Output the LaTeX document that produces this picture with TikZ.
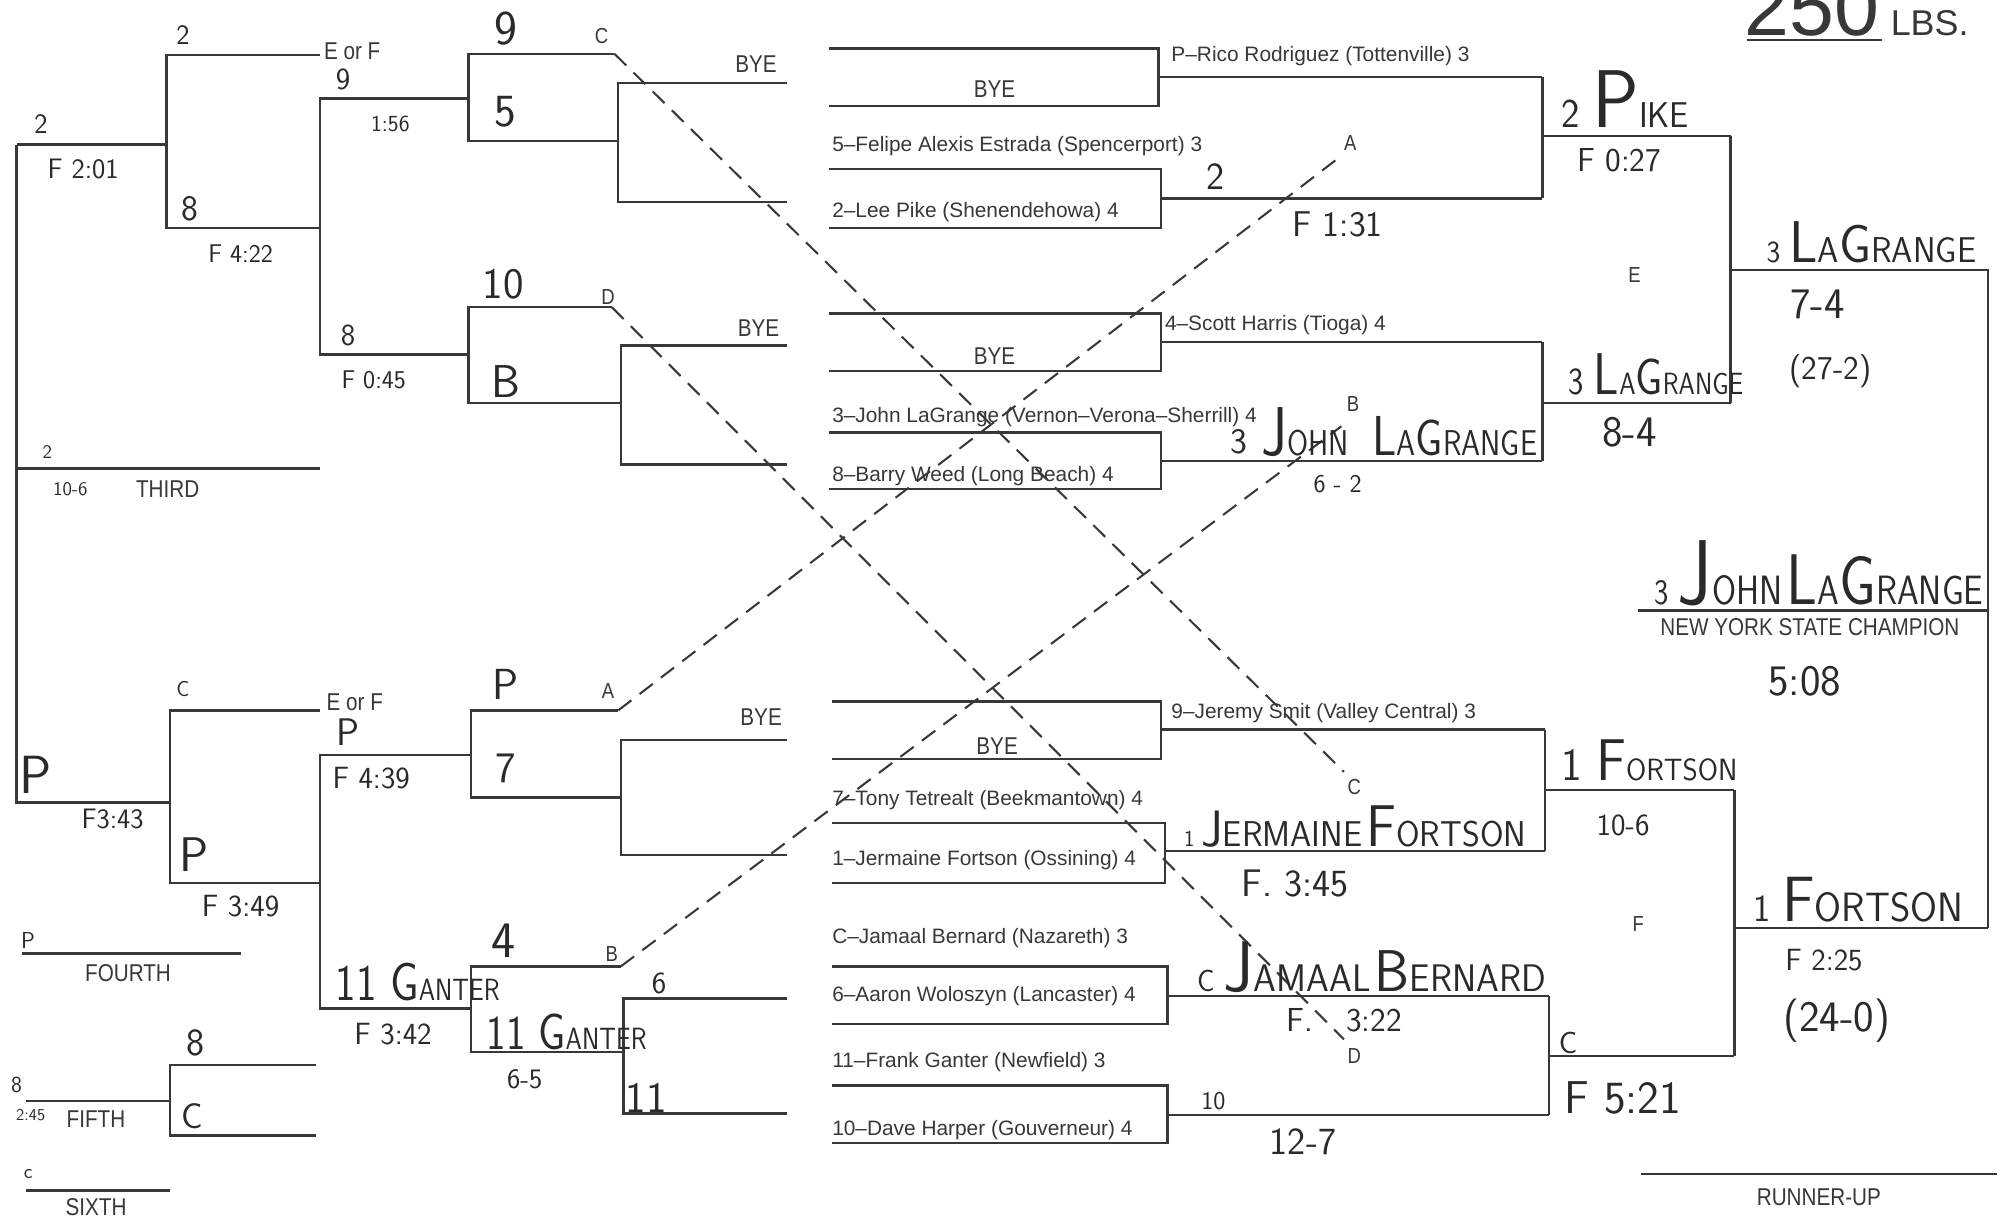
\documentclass[tikz,border=0pt]{standalone}
\usepackage{fontspec}
\newfontfamily\pn{Liberation Sans}[Ligatures=TeX]
\newfontfamily\pc{Liberation Sans}[Ligatures=TeX,FakeStretch=0.85]
\definecolor{ink}{HTML}{383838}
\definecolor{hand}{HTML}{2A2A2A}
\newcommand\hc[4]{{\fontsize{#1}{#1}\selectfont #3}{\fontsize{#2}{#2}\selectfont #4}}
\newcommand\hs[2]{{\fontsize{#1}{#1}\selectfont #2}}
\newcommand\sq[1]{\scalebox{0.85}[1]{#1}}
\newcommand\sqw[1]{\scalebox{0.95}[1]{#1}}
\tikzset{
 ln/.style={draw=ink, line width=1.8pt},
 dsh/.style={draw=ink, line width=1.6pt, dash pattern=on 13pt off 8pt},
 nm/.style={font=\pn\fontsize{16.3}{16.3}\selectfont, text=ink, anchor=west, inner sep=0pt},
 lb/.style={font=\pc\fontsize{19}{19}\selectfont, text=ink, inner sep=0pt},
 lt/.style={font=\pc\fontsize{17}{17}\selectfont, text=ink, inner sep=0pt},
 hw/.style={font=\sffamily\fontsize{#1}{#1}\selectfont, text=hand, inner sep=0pt},
 hw/.default=22,
 hn/.style={font=\sffamily, text=hand, inner sep=0pt, anchor=base west},
}
\begin{document}
\begin{tikzpicture}[x=1pt,y=-1pt]
\clip (0,0) rectangle (1568,953);
\fill[white] (0,0) rectangle (1568,953);
% ---------- title
\node[font=\pn\fontsize{63}{63}\selectfont, text=ink, anchor=base west, inner sep=0pt] (t250) at (1363,28) {250};
\draw[ink, line width=1.5pt] (1365,31) -- (1470,31);
\node[font=\pn\fontsize{28}{28}\selectfont, text=ink, anchor=base west, inner sep=0pt] (tlbs) at (1477,28) {LBS.};
% ---------- upper-left consolation
\draw[ln] (250,43) -- (130,43) -- (130,178) -- (250,178);
\draw[ln] (13,113) -- (130,113);
\draw[ln] (366,77) -- (250,77) -- (250,277) -- (366,277);
\draw[ln] (480,42) -- (366,42) -- (366,110) -- (483,110);
\draw[ln] (615,65) -- (483,65) -- (483,158) -- (615,158);
\draw[ln] (478,240) -- (366,240) -- (366,315) -- (485,315);
\draw[ln] (615,270) -- (485,270) -- (485,363) -- (615,363);
\draw[ln] (13,366) -- (250,366);
\draw[ln] (13,113) -- (13,627) -- (133,627);
% ---------- lower-left consolation
\draw[ln] (250,555) -- (133,555) -- (133,690) -- (250,690);
\draw[ln] (368,590) -- (250,590) -- (250,788) -- (368,788);
\draw[ln] (483,555) -- (368,555) -- (368,623) -- (485,623);
\draw[ln] (615,578) -- (485,578) -- (485,668) -- (615,668);
\draw[ln] (485,755) -- (368,755) -- (368,822) -- (487,822);
\draw[ln] (615,780) -- (487,780) -- (487,870) -- (615,870);
\draw[ln] (17,745) -- (188,745);
\draw[ln] (247,832) -- (133,832) -- (133,887) -- (247,887);
\draw[ln] (20,860) -- (133,860);
\draw[ln] (20,930) -- (133,930);
% ---------- championship bracket, upper half
\draw[ln] (648,38) -- (905,38) -- (905,83) -- (648,83);
\draw[ln] (905,60) -- (1205,60);
\draw[ln] (648,132) -- (907,132) -- (907,178) -- (648,178);
\draw[ln] (907,155) -- (1205,155);
\draw[ln] (1205,60) -- (1205,155);
\draw[ln] (1205,106) -- (1352,106);
\draw[ln] (648,245) -- (907,245) -- (907,290) -- (648,290);
\draw[ln] (907,267) -- (1205,267);
\draw[ln] (648,338) -- (907,338) -- (907,382) -- (648,382);
\draw[ln] (907,360) -- (1205,360);
\draw[ln] (1205,267) -- (1205,360);
\draw[ln] (1205,315) -- (1352,315);
\draw[ln] (1352,106) -- (1352,315);
\draw[ln] (1352,211) -- (1553,211) -- (1553,725);
\draw[ln] (1280,477) -- (1553,477);
% ---------- championship bracket, lower half
\draw[ln] (650,548) -- (907,548) -- (907,593) -- (650,593);
\draw[ln] (907,570) -- (1207,570);
\draw[ln] (650,643) -- (910,643) -- (910,690) -- (650,690);
\draw[ln] (910,665) -- (1207,665);
\draw[ln] (1207,570) -- (1207,665);
\draw[ln] (1207,617) -- (1355,617);
\draw[ln] (650,755) -- (912,755) -- (912,800) -- (650,800);
\draw[ln] (912,778) -- (1210,778);
\draw[ln] (650,848) -- (912,848) -- (912,893) -- (650,893);
\draw[ln] (912,871) -- (1210,871);
\draw[ln] (1210,778) -- (1210,871);
\draw[ln] (1210,825) -- (1355,825);
\draw[ln] (1355,617) -- (1355,825);
\draw[ln] (1355,725) -- (1553,725);
\draw[ln] (1282,917) -- (1560,917);
% ---------- crossover letters (printed)
\node[lt] (lC1) at (470,28) {C};
\node[lt] (lD1) at (475,232) {D};
\node[lt] (lA1) at (475,540) {A};
\node[lt] (lB1) at (478,745) {B};
\node[lt] (lA2) at (1055,112) {A};
\node[lt] (lB2) at (1057,316) {B};
\node[lt] (lC2) at (1058,615) {C};
\node[lt] (lD2) at (1058,825) {D};
\node[lt] (lE) at (1277,215) {E};
\node[lt] (lF) at (1280,722) {F};
% ---------- dashed crossovers
\draw[dsh] (480,42) -- (1050,603);
\draw[dsh] (478,240) -- (1050,812);
\draw[dsh] (483,555) -- (1045,124);
\draw[dsh] (485,755) -- (1048,333);
% ---------- printed labels
\node[lb, anchor=west] (eof1) at (253,40) {E or F};
\node[lb, anchor=west] (eof2) at (255,549) {E or F};
\node[lb, anchor=east] (bye1) at (607,50) {BYE};
\node[lb, anchor=east] (bye2) at (609,256) {BYE};
\node[lb, anchor=east] (bye3) at (611,560) {BYE};
\node[lb] (bye4) at (777,70) {BYE};
\node[lb] (bye5) at (777,278) {BYE};
\node[lb] (bye6) at (779,583) {BYE};
\node[lb] (third) at (131,382) {THIRD};
\node[lb] (fourth) at (100,760) {FOURTH};
\node[lb] (fifth) at (75,874) {FIFTH};
\node[lb] (sixth) at (75,943) {SIXTH};
\node[lb] (champ) at (1414,490) {NEW YORK STATE CHAMPION};
\node[lb] (runner) at (1421,935) {RUNNER-UP};
% ---------- printed names
\node[nm] (w1) at (915,44) {P–Rico Rodriguez (Tottenville) 3};
\node[nm] (w2) at (650,114) {5–Felipe Alexis Estrada (Spencerport) 3};
\node[nm] (w3) at (650,166) {2–Lee Pike (Shenendehowa) 4};
\node[nm] (w4) at (910,254) {4–Scott Harris (Tioga) 4};
\node[nm] (w5) at (650,326) {3–John LaGrange (Vernon–Verona–Sherrill) 4};
\node[nm] (w6) at (650,372) {8–Barry Weed (Long Beach) 4};
\node[nm] (w7) at (915,557) {9–Jeremy Smit (Valley Central) 3};
\node[nm] (w8) at (650,625) {7–Tony Tetrealt (Beekmantown) 4};
\node[nm] (w9) at (650,672) {1–Jermaine Fortson (Ossining) 4};
\node[nm] (w10) at (650,733) {C–Jamaal Bernard (Nazareth) 3};
\node[nm] (w11) at (650,778) {6–Aaron Woloszyn (Lancaster) 4};
\node[nm] (w12) at (650,830) {11–Frank Ganter (Newfield) 3};
\node[nm] (w13) at (650,883) {10–Dave Harper (Gouverneur) 4};
% ---------- handwriting, left upper
\node[hw=22] (h1) at (143,27) {2};
\node[hw=28] (h2) at (148,163) {8};
\node[hw=20] (h3) at (188,198) {F 4:22};
\node[hw=22] (h4) at (32,97) {2};
\node[hw=22] (h5) at (65,132) {F 2:01};
\node[hw=24] (h6) at (268,62) {9};
\node[hw=18] (h7) at (305,97) {1:56};
\node[hw=24] (h8) at (272,262) {8};
\node[hw=20] (h9) at (292,297) {F 0:45};
\node[hw=38] (h10) at (395,22) {9};
\node[hw=36] (h11) at (395,87) {5};
\node[hw=34] (h12) at (393,222) {10};
\node[hw=36] (h13) at (395,298) {B};
\node[hw=15] (h14) at (37,353) {2};
\node[hw=15] (h15) at (55,382) {10-6};
% ---------- handwriting, left lower
\node[hw=42] (h16) at (28,605) {P};
\node[hw=22] (h17) at (88,640) {F3:43};
\node[hw=17] (h18) at (143,538) {C};
\node[hw=38] (h19) at (152,668) {P};
\node[hw=24] (h20) at (188,708) {F 3:49};
\node[hw=30] (h21) at (272,572) {P};
\node[hw=24] (h22) at (290,608) {F 4:39};
\node[hn] (h23) at (262,782) {\sq{\hs{40}{11 }\hc{42}{24}{G}{ANTER}}};
\node[hw=24] (h24) at (307,808) {F 3:42};
\node[hw=34] (h25) at (395,535) {P};
\node[hw=34] (h26) at (395,600) {7};
\node[hw=40] (h27) at (393,735) {4};
\node[hn] (h28) at (380,820) {\sq{\hs{38}{11 }\hc{40}{24}{G}{ANTER}}};
\node[hw=22] (h29) at (410,843) {6-5};
\node[hw=24] (h30) at (515,768) {6};
\node[hw=34] (h31) at (505,858) {11};
\node[hw=18] (h32) at (22,735) {P};
\node[hw=30] (h33) at (153,815) {8};
\node[hw=28] (h34) at (150,872) {C};
\node[hw=18] (h35) at (13,848) {8};
\node[hw=13] (h36) at (24,871) {2:45};
\node[hw=16] (h37) at (22,917) {c};
% ---------- handwriting, right upper
\node[hw=30] (h38) at (950,138) {2};
\node[hw=28] (h39) at (1045,175) {F 1:31};
\node[hn] (h40) at (1220,100) {\sqw{\hs{32}{2 }\hc{64}{28}{P}{IKE}}};
\node[hw=26] (h41) at (1265,125) {F 0:27};
\node[hw=28] (h42) at (968,345) {3};
\node[hn] (h43) at (985,356) {\sq{\hc{54}{28}{J}{OHN}\hspace{22pt}\hc{44}{28}{L}{A}\hc{40}{28}{G}{RANGE}}};
\node[hw=20] (h44) at (1045,378) {6 - 2};
\node[hn] (h45) at (1225,308) {\sq{\hs{30}{3 }\hc{46}{24}{L}{A}\hc{40}{24}{G}{RANGE}}};
\node[hw=34] (h46) at (1273,338) {8-4};
\node[hn] (h47) at (1380,205) {\sqw{\hs{24}{3 }\hc{46}{28}{L}{A}\hc{42}{28}{G}{RANGE}}};
\node[hw=34] (h48) at (1420,238) {7-4};
\node[hw=26] (h49) at (1430,290) {(27-2)};
\node[hn] (h50) at (1292,472) {\sq{\hs{28}{3 }\hc{72}{32}{J}{OHN} \hc{56}{32}{L}{A}\hc{54}{32}{G}{RANGE}}};
\node[hw=34] (h51) at (1410,532) {5:08};
% ---------- handwriting, right lower
\node[hn] (h52) at (925,661) {\sqw{\hs{18}{1 }\hc{40}{28}{J}{ERMAINE} \hc{46}{28}{F}{ORTSON}}};
\node[hw=30] (h53) at (1012,690) {F. 3:45};
\node[hn] (h54) at (1220,610) {\sqw{\hs{36}{1 }\hc{46}{24}{F}{ORTSON}}};
\node[hw=24] (h55) at (1268,645) {10-6};
\node[hn] (h56) at (935,775) {\sqw{\hs{24}{C }\hc{56}{30}{J}{AMAAL} \hc{46}{30}{B}{ERNARD}}};
\node[hw=26] (h57) at (1050,797) {F.\quad 3:22};
\node[hw=20] (h58) at (948,860) {10};
\node[hw=30] (h59) at (1018,892) {12-7};
\node[hw=24] (h60) at (1225,815) {C};
\node[hw=36] (h61) at (1268,858) {F 5:21};
\node[hn] (h62) at (1370,720) {\sqw{\hs{30}{1 }\hc{50}{32}{F}{ORTSON}}};
\node[hw=24] (h63) at (1425,750) {F 2:25};
\node[hw=34] (h64) at (1435,797) {(24-0)};
\end{tikzpicture}
\end{document}
